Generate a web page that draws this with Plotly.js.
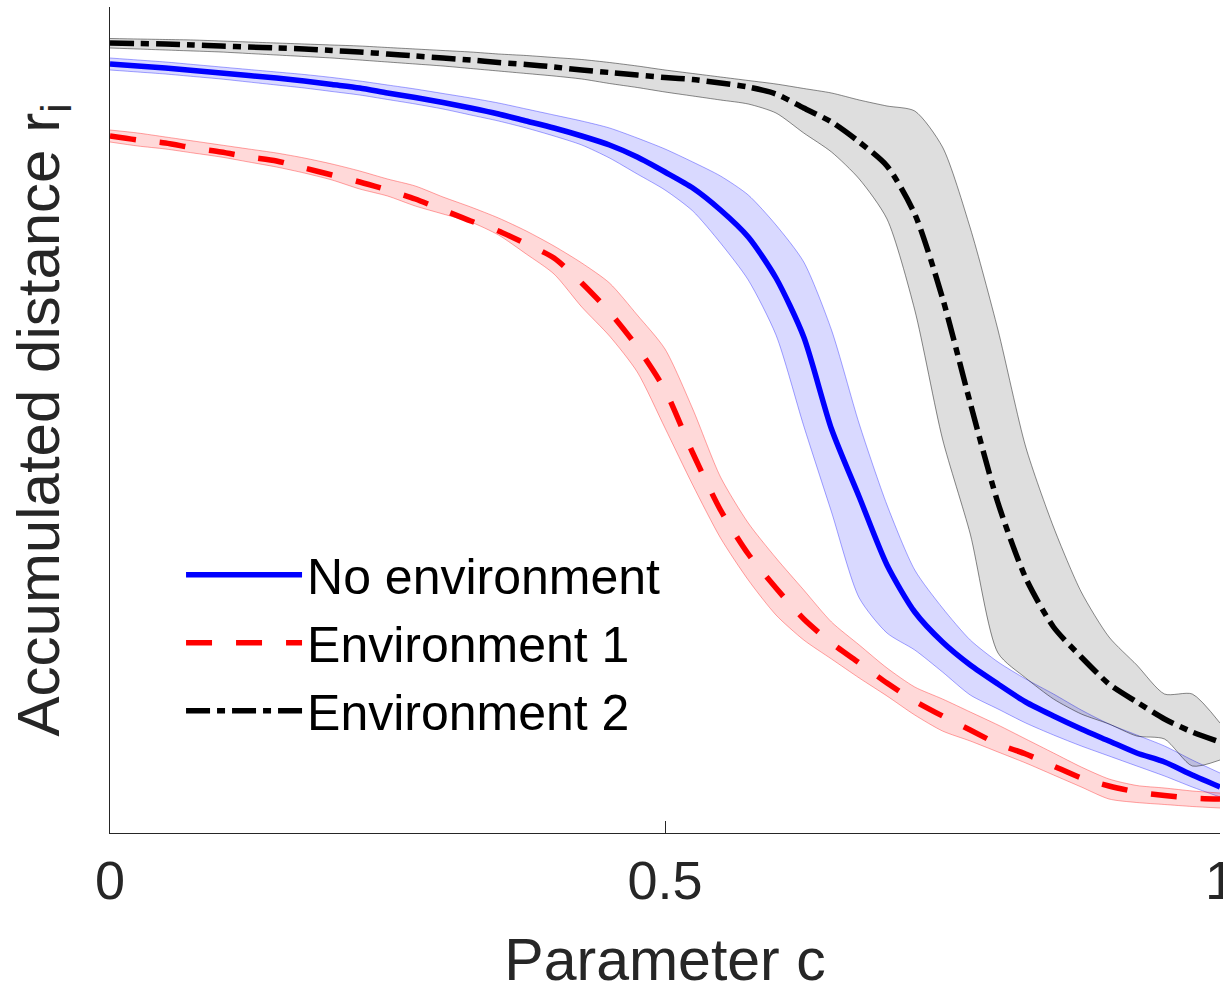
<!DOCTYPE html>
<html>
<head>
<meta charset="utf-8">
<script src="https://cdn.plot.ly/plotly-3.0.1.min.js"></script>
<style>
  html, body { margin: 0; padding: 0; background: #ffffff; }
  #chart { width: 1223px; height: 993px; }
</style>
</head>
<body>
<div id="chart"></div>
<script>
// Parameter c (x values)
const paramC = [0, 0.025, 0.05, 0.075, 0.1, 0.125, 0.15, 0.175, 0.2, 0.225, 0.25, 0.275, 0.3, 0.325, 0.35, 0.375, 0.4, 0.425, 0.45, 0.475, 0.5, 0.525, 0.55, 0.575, 0.6, 0.625, 0.65, 0.675, 0.7, 0.725, 0.75, 0.775, 0.8, 0.825, 0.85, 0.875, 0.9, 0.925, 0.95, 0.975, 1];

// No environment (blue)
const noEnvMean  = [7.69, 7.67, 7.65, 7.625, 7.60, 7.575, 7.55, 7.52, 7.485, 7.45, 7.40, 7.355, 7.305, 7.25, 7.19, 7.12, 7.05, 6.97, 6.88, 6.76, 6.61, 6.45, 6.23, 5.96, 5.55, 4.96, 4.04, 3.36, 2.68, 2.21, 1.91, 1.68, 1.49, 1.31, 1.17, 1.04, 0.92, 0.80, 0.71, 0.58, 0.46];
const noEnvUpper = [7.75, 7.73, 7.71, 7.685, 7.66, 7.635, 7.61, 7.585, 7.555, 7.52, 7.48, 7.44, 7.395, 7.35, 7.30, 7.24, 7.18, 7.12, 7.05, 6.95, 6.84, 6.71, 6.57, 6.38, 6.08, 5.71, 5.03, 4.09, 3.28, 2.63, 2.25, 1.93, 1.71, 1.54, 1.39, 1.23, 1.09, 0.98, 0.87, 0.73, 0.60];
const noEnvLower = [7.63, 7.61, 7.59, 7.565, 7.54, 7.51, 7.48, 7.45, 7.415, 7.38, 7.335, 7.29, 7.24, 7.18, 7.12, 7.05, 6.97, 6.88, 6.75, 6.59, 6.43, 6.22, 5.90, 5.53, 4.98, 4.07, 3.21, 2.35, 2.00, 1.83, 1.61, 1.38, 1.24, 1.10, 0.98, 0.87, 0.77, 0.67, 0.57, 0.46, 0.36];

// Environment 1 (red)
const env1Mean  = [6.97, 6.93, 6.90, 6.85, 6.81, 6.76, 6.72, 6.65, 6.58, 6.51, 6.43, 6.34, 6.23, 6.12, 6.02, 5.89, 5.75, 5.50, 5.21, 4.86, 4.43, 3.80, 3.23, 2.79, 2.45, 2.14, 1.90, 1.70, 1.50, 1.32, 1.17, 1.03, 0.89, 0.79, 0.67, 0.55, 0.47, 0.41, 0.375, 0.35, 0.34];
const env1Upper = [7.03, 7.00, 6.96, 6.92, 6.88, 6.84, 6.80, 6.75, 6.69, 6.62, 6.54, 6.47, 6.36, 6.26, 6.15, 6.02, 5.87, 5.70, 5.50, 5.18, 4.84, 4.24, 3.56, 3.10, 2.75, 2.43, 2.11, 1.88, 1.65, 1.46, 1.34, 1.21, 1.08, 0.94, 0.80, 0.66, 0.54, 0.475, 0.45, 0.42, 0.40];
const env1Lower = [6.91, 6.87, 6.84, 6.80, 6.76, 6.71, 6.66, 6.60, 6.53, 6.44, 6.37, 6.27, 6.19, 6.11, 5.98, 5.79, 5.59, 5.26, 4.97, 4.61, 4.05, 3.48, 2.95, 2.53, 2.18, 1.93, 1.74, 1.55, 1.37, 1.18, 1.02, 0.92, 0.81, 0.70, 0.58, 0.46, 0.34, 0.305, 0.285, 0.265, 0.25];

// Environment 2 (black)
const env2Mean  = [7.90, 7.895, 7.89, 7.88, 7.87, 7.86, 7.85, 7.84, 7.825, 7.81, 7.79, 7.77, 7.75, 7.73, 7.705, 7.685, 7.66, 7.63, 7.605, 7.58, 7.555, 7.535, 7.50, 7.46, 7.39, 7.25, 7.11, 6.91, 6.67, 6.19, 5.35, 4.30, 3.30, 2.55, 2.06, 1.76, 1.49, 1.31, 1.14, 1.01, 0.91];
const env2Upper = [7.945, 7.94, 7.935, 7.93, 7.92, 7.91, 7.90, 7.89, 7.88, 7.87, 7.855, 7.84, 7.825, 7.81, 7.79, 7.775, 7.755, 7.735, 7.705, 7.67, 7.63, 7.595, 7.56, 7.525, 7.49, 7.445, 7.40, 7.33, 7.27, 7.22, 6.86, 6.05, 5.03, 3.86, 3.06, 2.41, 1.96, 1.68, 1.39, 1.39, 1.10];
const env2Lower = [7.85, 7.84, 7.83, 7.82, 7.81, 7.795, 7.78, 7.765, 7.75, 7.73, 7.71, 7.69, 7.67, 7.645, 7.62, 7.595, 7.57, 7.54, 7.495, 7.455, 7.41, 7.37, 7.33, 7.29, 7.20, 7.00, 6.81, 6.54, 6.14, 5.23, 3.94, 2.99, 1.80, 1.55, 1.34, 1.19, 1.09, 0.97, 0.94, 0.67, 0.73];

const seriesNames = ['No environment', 'Environment 1', 'Environment 2'];
const xTickVals = [0, 0.5, 1];
const xTickText = ['0', '0.5', '1'];

const FONT = 'Liberation Sans, Arial, Helvetica, sans-serif';
const SMOOTH = 0.7;

function band(lower, upper, fill, edge) {
  return [
    { x: paramC, y: lower, mode: 'lines', line: { color: edge, width: 1, shape: 'spline', smoothing: SMOOTH }, showlegend: false, hoverinfo: 'skip' },
    { x: paramC, y: upper, mode: 'lines', line: { color: edge, width: 1, shape: 'spline', smoothing: SMOOTH }, fill: 'tonexty', fillcolor: fill, showlegend: false, hoverinfo: 'skip' }
  ];
}

const data = [].concat(
  band(noEnvLower, noEnvUpper, 'rgba(0,0,255,0.15)', 'rgba(0,0,255,0.35)'),
  band(env1Lower, env1Upper, 'rgba(255,0,0,0.15)', 'rgba(255,0,0,0.35)'),
  band(env2Lower, env2Upper, 'rgba(0,0,0,0.13)', 'rgba(0,0,0,0.45)'),
  [
    { x: paramC, y: noEnvMean, mode: 'lines', name: seriesNames[0], line: { color: '#0000ff', width: 5.5, shape: 'spline', smoothing: SMOOTH } },
    { x: paramC, y: env1Mean, mode: 'lines', name: seriesNames[1], line: { color: '#ff0000', width: 5.5, dash: '26px,24px', shape: 'spline', smoothing: SMOOTH } },
    { x: paramC, y: env2Mean, mode: 'lines', name: seriesNames[2], line: { color: '#000000', width: 5.5, dash: '24px,7px,8px,7px', shape: 'spline', smoothing: SMOOTH } }
  ]
);

const layout = {
  width: 1223,
  height: 993,
  margin: { l: 110, r: 3, t: 7, b: 160 },
  paper_bgcolor: '#ffffff',
  plot_bgcolor: '#ffffff',
  font: { family: FONT, color: '#262626' },
  showlegend: true,
  legend: {
    x: 0.064, y: 0.36, xanchor: 'left', yanchor: 'top',
    traceorder: 'normal',
    bgcolor: 'rgba(0,0,0,0)', borderwidth: 0,
    font: { family: FONT, size: 50, color: '#000000' },
    itemwidth: 116,
    tracegroupgap: 0
  },
  xaxis: {
    range: [0, 1],
    tickvals: xTickVals,
    ticktext: xTickText,
    ticks: 'inside',
    ticklen: 12,
    tickwidth: 1,
    tickcolor: '#262626',
    ticklabeloverflow: 'allow',
    showline: true,
    linecolor: '#262626',
    linewidth: 1,
    showgrid: false,
    zeroline: false,
    tickfont: { family: FONT, size: 54, color: '#262626' },
    title: { text: 'Parameter c', font: { family: FONT, size: 59, color: '#262626' } },
    fixedrange: true
  },
  yaxis: {
    range: [0, 8.26],
    showticklabels: false,
    ticks: '',
    showline: true,
    linecolor: '#262626',
    linewidth: 1,
    showgrid: false,
    zeroline: false,
    title: { text: 'Accumulated distance r<sub>i</sub>', standoff: 30, font: { family: FONT, size: 60, color: '#262626' } },
    fixedrange: true
  }
};

Plotly.newPlot('chart', data, layout, { staticPlot: true, displayModeBar: false });
</script>
</body>
</html>
